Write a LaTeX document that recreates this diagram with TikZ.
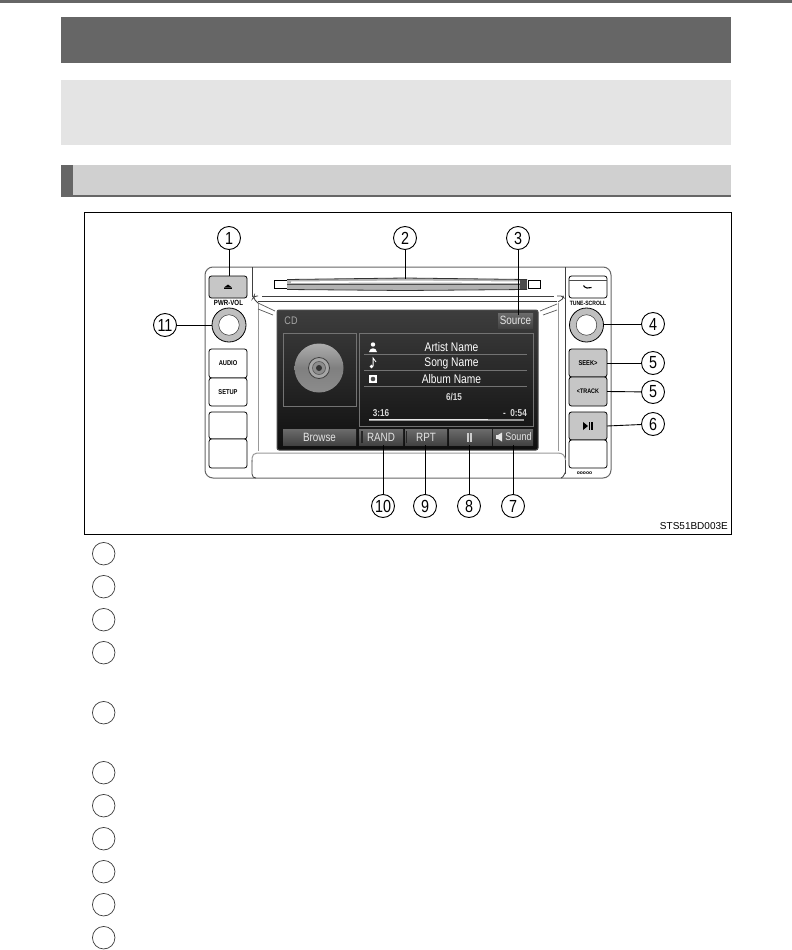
\documentclass[tikz,border=0pt]{standalone}
\usepackage{fontspec}
\setmainfont{Liberation Sans}
\newfontfamily\narrowfont[FakeStretch=0.82]{Liberation Sans}
\usetikzlibrary{calc}
\definecolor{headdark}{HTML}{666666}
\definecolor{headlight}{HTML}{E4E4E4}
\definecolor{headmid}{HTML}{D0D0D0}
\definecolor{keygray}{HTML}{C6C6C6}
\definecolor{linegray}{HTML}{3A3A3A}
\tikzset{
  band/.style={draw=none,inner sep=0pt,outer sep=0pt},
  callout/.style={circle,draw=black,line width=0.9pt,fill=white,minimum size=23pt,inner sep=0pt,font=\narrowfont\fontsize{17.5}{18}\selectfont},
  legendmark/.style={circle,draw=linegray,line width=0.7pt,minimum size=22.5pt,inner sep=0pt},
  leader/.style={draw=black,line width=0.9pt},
  devline/.style={draw=black!75,line width=0.8pt},
  bezel/.style={draw=black!40,line width=1pt},
  whitekey/.style={draw=black,line width=0.8pt,fill=white,rounded corners=2.5pt,inner sep=0pt,outer sep=0pt,minimum width=38pt,font=\narrowfont\bfseries\fontsize{7}{8}\selectfont},
  graykey/.style={whitekey,fill=keygray},
  knoblabel/.style={inner sep=0pt,font=\narrowfont\bfseries\fontsize{6.2}{7}\selectfont},
  softkey/.style={draw=none,top color=black!58,bottom color=black!74,inner sep=0pt,outer sep=0pt,text=black!10,font=\narrowfont\fontsize{12}{13}\selectfont},
  screentext/.style={inner sep=0pt,text=white,font=\narrowfont\fontsize{12.5}{13}\selectfont},
  smalltext/.style={inner sep=0pt,text=black!15,font=\narrowfont\bfseries\fontsize{10}{11}\selectfont},
  hairline/.style={draw=black!55,line width=0.5pt},
}
\begin{document}
\begin{tikzpicture}[x=1pt,y=-1pt]
\useasboundingbox (0,0) rectangle (792,950);
\fill[white] (0,0) rectangle (792,950);
% page headers
\node[band,fill=headdark,minimum width=792pt,minimum height=3pt] (topbar) at (396,1.5) {};
\node[band,fill=headdark,minimum width=670pt,minimum height=46pt] (chapter) at (396,40) {};
\node[band,fill=headlight,minimum width=670pt,minimum height=65pt] (intro) at (396,112.5) {};
\node[band,fill=headmid,minimum width=670pt,minimum height=32pt] (section) at (396,181) {};
\node[band,fill=headdark,minimum width=12pt,minimum height=32pt] (sectab) at (67,181) {};
\fill[headdark] (61,195) rectangle (731,197);
% figure frame
\node[draw=black,line width=1pt,inner sep=0pt,minimum width=646.5pt,minimum height=322pt] (frame) at (407.75,373) {};
\node[inner sep=0pt,anchor=east,font=\fontsize{10}{11}\selectfont] (code) at (728,526) {STS51BD003E};
% device outline
\draw[devline,line width=1pt,rounded corners=8pt,draw=black!60] (205,267) rectangle (611,478);
\draw[devline] (252,267) -- (252,297);
\draw[devline] (565.5,267) -- (565.5,473) to[out=90,in=0] (561,478);
\draw[devline] (252,460) -- (252,474) .. controls (252,477) and (254,478) .. (256,478);
\draw[bezel,rounded corners=5pt] (252,462) -- (252,453) -- (558,453);
\draw[bezel] (558,453) .. controls (563,453) and (565,456) .. (565.5,460);
\draw[devline,rounded corners=3pt] (258,296) -- (254,296) -- (253,298) -- (258,303);
\draw[devline] (258,301) -- (557,301);
\draw[devline,rounded corners=2pt] (557,296) -- (563,296) -- (564,298) -- (558,302);
\draw[bezel] (258,303) -- (258,451);
\draw[bezel] (558,303) -- (558,451);
\draw[draw=black!65,line width=0.7pt] (258,303) -- (275,311);
\draw[draw=black!65,line width=0.7pt] (258,309) -- (273,315);
\draw[draw=black!65,line width=0.7pt] (557,304) -- (540,311);
\draw[draw=black!65,line width=0.7pt] (557,310) -- (543,315);
\draw[devline,line width=0.6pt] (262,296) -- (554,296);
% disc slot
\node[draw=black,line width=0.7pt,fill=white,inner sep=0pt,minimum width=13pt,minimum height=7.5pt] (slotL) at (280.5,284.5) {};
\node[draw=black,line width=0.7pt,fill=white,inner sep=0pt,minimum width=12pt,minimum height=7.5pt] (slotR) at (534,284.5) {};
\fill[black!30] (287,279.5) -- (405,278) -- (527,279.5) -- (527,289.5) -- (405,290.5) -- (287,289.5) -- cycle;
\fill[white] (291,281.5) -- (405,280.5) -- (520,281.5) -- (520,283) -- (405,282.5) -- (291,283) -- cycle;
\draw[black!80,line width=0.8pt] (287,279.5) -- (405,278) -- (527,279.5);
\draw[black!80,line width=0.8pt] (287,289.5) -- (405,290.5) -- (527,289.5);
\draw[black!70,line width=0.9pt] (287,284) -- (527,284);
\fill[black!70] (520,280) rectangle (527,289);
\coordinate (slotmid) at (405,279);
% left keys
\node[graykey,minimum height=22pt] (eject) at (228,287) {};
\fill[black] (224,287.5) -- (228,284.5) -- (232,287.5) -- cycle;
\fill[black] (224,288.3) rectangle (232,289.3);
\node[knoblabel,font=\narrowfont\bfseries\fontsize{7.5}{8}\selectfont] (pwrlabel) at (228.5,303) {PWR-VOL};
\node[circle,draw=black,line width=0.8pt,fill=black!25,minimum size=34pt,inner sep=0pt] (pwrknob) at (229,325) {};
\node[circle,draw=black!80,line width=0.5pt,fill=white,minimum size=20.5pt,inner sep=0pt] (pwrcap) at (229,325) {};
\node[whitekey,minimum height=29pt] (audio) at (228,363.5) {AUDIO};
\node[whitekey,minimum height=28pt] (setup) at (228,392) {SETUP};
\node[whitekey,minimum height=27pt] (blankLa) at (228,425.5) {};
\node[whitekey,minimum height=29pt] (blankLb) at (228,453.5) {};
% right keys
\node[whitekey,minimum height=22pt] (phone) at (588,287) {};
\draw[black,line width=1.1pt] (583.5,285.5) .. controls (585,288.5) and (589,288.5) .. (591.5,287.5);
\draw[black!70,line width=0.8pt] (569,280.5) -- (607,280.5);
\node[knoblabel] (tunelabel) at (588,303) {TUNE-SCROLL};
\node[circle,draw=black,line width=0.8pt,fill=black!25,minimum size=34pt,inner sep=0pt] (tuneknob) at (586.5,325) {};
\node[circle,draw=black!80,line width=0.5pt,fill=white,minimum size=20.5pt,inner sep=0pt] (tunecap) at (586.5,325) {};
\node[graykey,minimum height=28pt] (seek) at (588,363) {SEEK\raisebox{0.3pt}{\fontsize{7}{8}\selectfont >}};
\node[graykey,minimum height=29pt,font=\narrowfont\bfseries\fontsize{6.6}{8}\selectfont] (track) at (588,391.5) {\raisebox{0.3pt}{<}TRACK};
\node[graykey,minimum height=28pt] (play) at (588,426) {};
\fill[black] (583,422) -- (588,426) -- (583,430) -- cycle;
\fill[black] (588.6,422) rectangle (590.2,430);
\fill[black] (591.2,422) rectangle (592.8,430);
\node[whitekey,minimum height=28pt] (blankR) at (588,454) {};
\node[inner sep=0pt,font=\bfseries\fontsize{5}{5}\selectfont] (dots) at (584.5,473) {ooooo};
% screen
\node[draw=black!70,line width=1pt,inner sep=0pt,outer sep=0pt,minimum width=261pt,minimum height=140pt,top color=black!76,bottom color=black!94,rounded corners=2pt] (screen) at (407.5,380) {};
\node[inner sep=0pt,text=black!35,font=\narrowfont\fontsize{11}{12}\selectfont] (cdtitle) at (291,321) {CD};
\node[softkey,minimum width=35pt,minimum height=15pt] (source) at (515.5,320.5) {Source};
\node[draw=black!55,line width=0.5pt,inner sep=0pt,minimum width=73pt,minimum height=73pt] (artbox) at (319.5,369.5) {};
\node[circle,minimum size=49pt,inner sep=0pt,top color=black!32,bottom color=black!45,middle color=black!50] (disc) at (319,368) {};
\node[circle,draw=black!75,line width=0.8pt,fill=black!35,minimum size=21pt,inner sep=0pt] (discb) at (319,368) {};
\node[circle,draw=black!65,line width=0.6pt,fill=black!45,minimum size=13pt,inner sep=0pt] (discc) at (319,368) {};
\node[circle,fill=black!80,minimum size=6pt,inner sep=0pt] (discd) at (319,368) {};
\node[draw=black!55,line width=0.5pt,inner sep=0pt,minimum width=174pt,minimum height=93pt] (infobox) at (446,379.5) {};
\draw[hairline] (364,354.5) -- (527,354.5);
\draw[hairline] (364,370.5) -- (527,370.5);
\draw[hairline] (364,386.5) -- (527,386.5);
\node[screentext] (artist) at (451.5,347) {Artist Name};
\node[screentext] (song) at (451.5,363) {Song Name};
\node[screentext] (album) at (451.5,379) {Album Name};
% info icons
\fill[white] (373,344.5) circle (2.2pt);
\fill[white] (369,352) .. controls (370,347) and (376,347) .. (377,352) -- cycle;
\fill[white] (371.5,366.5) circle (1.9pt);
\draw[white,line width=0.8pt] (373.1,366) -- (373.1,358) -- (376,362);
\node[draw=none,fill=white,inner sep=0pt,minimum size=8.5pt] (albumicon) at (373,379) {};
\fill[black!70] (373,379) circle (2.3pt);
\node[smalltext] (track615) at (454,397) {6/15};
\node[smalltext] (tstart) at (381,413) {3:16};
\node[smalltext] (tend) at (515,413) {-\ \ 0:54};
\fill[black!40] (369,419) rectangle (524,421);
\fill[black!10] (369,419) rectangle (488,420.2);
% soft keys
\node[softkey,minimum width=73pt,minimum height=16pt] (browse) at (319.5,437) {Browse};
\node[softkey,minimum width=44pt,minimum height=16pt] (rand) at (381,437) {RAND};
\node[softkey,minimum width=42pt,minimum height=16pt] (rpt) at (426,437) {RPT};
\node[softkey,minimum width=43pt,minimum height=16pt] (pausekey) at (470.5,437) {};
\fill[black!85] (361,431) rectangle (362.5,443);
\fill[black!85] (405.5,431) rectangle (407,443);
\fill[black!20] (467,432.5) rectangle (468.6,441.5);
\fill[black!20] (470.4,432.5) rectangle (472,441.5);
\node[softkey,minimum width=40pt,minimum height=16pt,font=\narrowfont\fontsize{11}{12}\selectfont] (sound) at (513,437) {\hspace*{11pt}Sound};
\fill[black!10] (496,435) rectangle (498,439);
\fill[black!10] (498,435) -- (502,432.5) -- (502,441.5) -- (498,439) -- cycle;
% call-outs
\node[callout] (c1) at (229,238) {1};
\node[callout] (c2) at (405,238) {2};
\node[callout] (c3) at (518,238) {3};
\node[callout] (c4) at (653,324) {4};
\node[callout] (c5a) at (653,363) {5};
\node[callout] (c5b) at (653,392) {5};
\node[callout] (c6) at (653,424) {6};
\node[callout] (c7) at (513,506) {7};
\node[callout] (c8) at (469,506) {8};
\node[callout] (c9) at (425,506) {9};
\node[callout] (c10) at (383,506) {10};
\node[callout] (c11) at (165,325) {11};
\coordinate (p1) at (229,276);
\coordinate (p3) at (518,315);
\coordinate (p4) at (604,324);
\coordinate (p7) at (513,445);
\coordinate (p8) at (469,445);
\coordinate (p9) at (425,445);
\coordinate (p10) at (383,445);
\coordinate (p11) at (212,325);
\draw[leader] (c1) -- (p1);
\draw[leader] (c2) -- (slotmid);
\draw[leader] (c3) -- (p3);
\draw[leader] (c4) -- (p4);
\draw[leader] (c5a) -- (seek.east);
\draw[leader] (c5b) -- (track.east);
\draw[leader] (c6) -- (play.east);
\draw[leader] (c7) -- (p7);
\draw[leader] (c8) -- (p8);
\draw[leader] (c9) -- (p9);
\draw[leader] (c10) -- (p10);
\draw[leader] (c11) -- (p11);
% legend marks
\node[legendmark] (l1) at (103.7,553.7) {};
\node[legendmark] (l2) at (103.7,586.7) {};
\node[legendmark] (l3) at (103.7,619.7) {};
\node[legendmark] (l4) at (103.7,652.7) {};
\node[legendmark] (l5) at (103.7,712.7) {};
\node[legendmark] (l6) at (103.7,772.7) {};
\node[legendmark] (l7) at (103.7,805.7) {};
\node[legendmark] (l8) at (103.7,838.7) {};
\node[legendmark] (l9) at (103.7,871.7) {};
\node[legendmark] (l10) at (103.7,904.7) {};
\node[legendmark] (l11) at (103.7,937.7) {};
\end{tikzpicture}
\end{document}
